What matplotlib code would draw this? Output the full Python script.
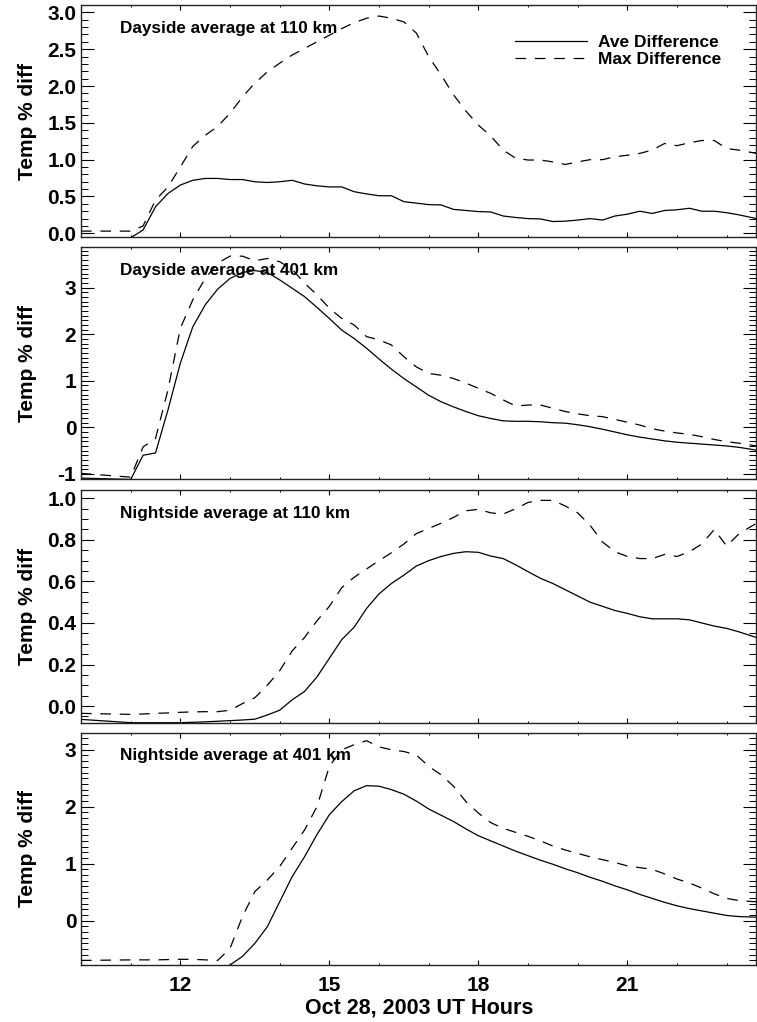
import numpy as np
import matplotlib
matplotlib.use('Agg')
import matplotlib.pyplot as plt
from matplotlib.ticker import MultipleLocator, FormatStrFormatter

plt.rcParams['font.family'] = ['Liberation Sans', 'DejaVu Sans']
plt.rcParams['font.weight'] = 'bold'
plt.rcParams['axes.unicode_minus'] = False

# ---------------- data ----------------
hours = [10.0, 11.0,
         11.25, 11.5, 11.75,
         12.0, 12.25, 12.5, 12.75,
         13.0, 13.25, 13.5, 13.75,
         14.0, 14.25, 14.5, 14.75,
         15.0, 15.25, 15.5, 15.75,
         16.0, 16.25, 16.5, 16.75,
         17.0, 17.25, 17.5, 17.75,
         18.0, 18.25, 18.5, 18.75,
         19.0, 19.25, 19.5, 19.75,
         20.0, 20.25, 20.5, 20.75,
         21.0, 21.25, 21.5, 21.75,
         22.0, 22.25, 22.5, 22.75,
         23.0, 23.25, 23.6]

day110_ave = [-0.08, -0.06,
              0.045, 0.36, 0.54,
              0.655, 0.72, 0.745, 0.745,
              0.73, 0.73, 0.70, 0.69,
              0.70, 0.72, 0.67, 0.645,
              0.63, 0.63, 0.565, 0.535,
              0.51, 0.51, 0.43, 0.41,
              0.39, 0.385, 0.325, 0.31,
              0.295, 0.29, 0.235, 0.215,
              0.20, 0.195, 0.16, 0.165,
              0.18, 0.20, 0.18, 0.235,
              0.26, 0.30, 0.27, 0.31,
              0.32, 0.34, 0.30, 0.30,
              0.28, 0.25, 0.20]
day110_max = [0.03, 0.03,
              0.10, 0.45, 0.63,
              0.90, 1.18, 1.33, 1.45,
              1.63, 1.85, 2.04, 2.19,
              2.31, 2.42, 2.51, 2.60,
              2.69, 2.78, 2.86, 2.92,
              2.95, 2.92, 2.87, 2.72,
              2.40, 2.15, 1.88, 1.66,
              1.47, 1.32, 1.13, 1.02,
              0.995, 0.995, 0.97, 0.935,
              0.97, 1.0, 1.0, 1.04,
              1.06, 1.085, 1.13, 1.22,
              1.19, 1.23, 1.26, 1.26,
              1.15, 1.13, 1.085]

day401_ave = [-1.09, -1.12,
              -0.60, -0.55, 0.37,
              1.38, 2.16, 2.63, 2.97,
              3.20, 3.33, 3.37, 3.33,
              3.17, 2.99, 2.81, 2.58,
              2.34, 2.09, 1.91, 1.70,
              1.47, 1.25, 1.05, 0.87,
              0.69, 0.55, 0.44, 0.34,
              0.25, 0.19, 0.14, 0.13,
              0.13, 0.12, 0.10, 0.09,
              0.056, 0.013, -0.04, -0.10,
              -0.16, -0.21, -0.25, -0.29,
              -0.32, -0.34, -0.36, -0.38,
              -0.40, -0.43, -0.49]
day401_max = [-0.99, -1.07,
              -0.42, -0.24, 0.80,
              2.13, 2.74, 3.20, 3.53,
              3.68, 3.68, 3.58, 3.63,
              3.56, 3.40, 3.10, 2.85,
              2.56, 2.34, 2.20, 1.95,
              1.88, 1.77, 1.52, 1.30,
              1.16, 1.12, 1.05, 0.95,
              0.84, 0.73, 0.59, 0.46,
              0.48, 0.48, 0.41, 0.34,
              0.29, 0.25, 0.23, 0.17,
              0.11, 0.05, -0.03, -0.08,
              -0.12, -0.15, -0.20, -0.26,
              -0.31, -0.34, -0.40]

night110_ave = [-0.064, -0.08,
                -0.08, -0.08, -0.08,
                -0.08, -0.078, -0.076, -0.073,
                -0.07, -0.067, -0.063, -0.043,
                -0.02, 0.03, 0.07, 0.14,
                0.23, 0.32, 0.38, 0.47,
                0.54, 0.59, 0.63, 0.674,
                0.70, 0.72, 0.735, 0.743,
                0.74, 0.722, 0.71, 0.68,
                0.647, 0.615, 0.59, 0.56,
                0.53, 0.50, 0.48, 0.46,
                0.446, 0.43, 0.42, 0.42,
                0.42, 0.415, 0.40, 0.385,
                0.374, 0.357, 0.33]
night110_max = [-0.035, -0.04,
                -0.038, -0.035, -0.033,
                -0.03, -0.028, -0.027, -0.027,
                -0.02, 0.012, 0.04, 0.10,
                0.17, 0.265, 0.33, 0.41,
                0.48, 0.57, 0.62, 0.66,
                0.70, 0.738, 0.78, 0.83,
                0.855, 0.88, 0.908, 0.94,
                0.947, 0.93, 0.924, 0.95,
                0.98, 0.99, 0.99, 0.963,
                0.93, 0.87, 0.79, 0.743,
                0.72, 0.71, 0.71, 0.73,
                0.72, 0.743, 0.78, 0.85,
                0.77, 0.83, 0.88]

night401_ave = [-0.9, -0.9,
                -0.9, -0.9, -0.9,
                -0.9, -0.9, -0.9, -0.9,
                -0.78, -0.63, -0.40, -0.11,
                0.33, 0.77, 1.12, 1.51,
                1.86, 2.09, 2.28, 2.37,
                2.36, 2.30, 2.22, 2.10,
                1.96, 1.85, 1.74, 1.61,
                1.49, 1.40, 1.31, 1.22,
                1.14, 1.06, 0.99, 0.91,
                0.84, 0.76, 0.69, 0.61,
                0.54, 0.46, 0.39, 0.32,
                0.26, 0.21, 0.17, 0.13,
                0.09, 0.07, 0.06]
night401_max = [-0.70, -0.69,
                -0.69, -0.69, -0.685,
                -0.68, -0.68, -0.69, -0.70,
                -0.49, 0.07, 0.51, 0.71,
                0.95, 1.27, 1.59, 2.00,
                2.71, 3.00, 3.09, 3.16,
                3.05, 3.00, 2.97, 2.91,
                2.71, 2.56, 2.36, 2.09,
                1.89, 1.72, 1.62, 1.55,
                1.48, 1.40, 1.31, 1.24,
                1.18, 1.12, 1.07, 1.02,
                0.96, 0.93, 0.90, 0.82,
                0.73, 0.66, 0.57, 0.47,
                0.39, 0.35, 0.33]

titles = ['Dayside average at 110 km', 'Dayside average at 401 km',
          'Nightside average at 110 km', 'Nightside average at 401 km']
ave_series = [day110_ave, day401_ave, night110_ave, night401_ave]
max_series = [day110_max, day401_max, night110_max, night401_max]
ylims = [(-0.05, 3.1), (-1.11, 3.87), (-0.08, 1.04), (-0.78, 3.30)]
ymajor = [0.5, 1.0, 0.2, 1.0]
yminor = [0.1, 0.1, 0.05, 0.1]
yfmt = ['%.1f', '%d', '%.1f', '%d']
xticks = [12, 15, 18, 21]

DASH = (8.5, 7)

# ---------------- figure ----------------
W, H = 757, 1022
fig = plt.figure(figsize=(W / 100, H / 100), dpi=100)

# panel boxes in pixels (top, bottom)
boxes = [(5, 237), (247.3, 479), (490, 722.7), (732.7, 965)]
left_px, right_px = 81, 756.5

axes = []
for i, (top, bot) in enumerate(boxes):
    ax = fig.add_axes([left_px / W, 1 - bot / H, (right_px - left_px) / W, (bot - top) / H])
    axes.append(ax)

    ax.plot(hours, ave_series[i], color='black', lw=0.9, label='Ave Difference')
    ax.plot(hours, max_series[i], color='black', lw=0.9, dashes=DASH, label='Max Difference')

    ax.set_xlim(10, 23.6)
    ax.set_ylim(*ylims[i])

    ax.xaxis.set_major_locator(plt.FixedLocator(xticks))
    ax.xaxis.set_minor_locator(MultipleLocator(1))
    ax.yaxis.set_major_locator(MultipleLocator(ymajor[i]))
    ax.yaxis.set_minor_locator(MultipleLocator(yminor[i]))
    ax.yaxis.set_major_formatter(FormatStrFormatter(yfmt[i]))

    ax.tick_params(axis='both', which='both', direction='in', top=True, right=True, color='black')
    ax.tick_params(axis='y', which='major', length=9.7, width=0.8, labelsize=15, pad=3.4)
    ax.tick_params(axis='y', which='minor', length=4.9, width=0.7)
    ax.tick_params(axis='x', which='major', length=3.3, width=0.8, labelsize=15, pad=8)
    ax.tick_params(axis='x', which='minor', length=1.7, width=0.7)
    if i < 3:
        ax.tick_params(axis='x', labelbottom=False)

    for sp in ax.spines.values():
        sp.set_linewidth(1.0)
        sp.set_color('#222222')

    ax.set_ylabel('Temp % diff', fontsize=15, fontweight='bold')
    ax.yaxis.set_label_coords(-0.065, 0.5)

    ax.text(0.058, 0.90, titles[i], transform=ax.transAxes, fontsize=12.3,
            fontweight='bold', ha='left', va='center')

# legend in top panel
axes[0].legend(loc='upper left', bbox_to_anchor=(0.643, 0.87),
               frameon=False, handlelength=4.1, handletextpad=0.65,
               labelspacing=0.1, borderpad=0, borderaxespad=0,
               prop={'weight': 'bold', 'size': 12.5})

axes[3].set_xlabel('Oct 28, 2003 UT Hours', fontsize=15.5, fontweight='bold', va='top')
axes[3].xaxis.set_label_coords(0.5, -0.141)

fig.savefig('out.png', dpi=100)
